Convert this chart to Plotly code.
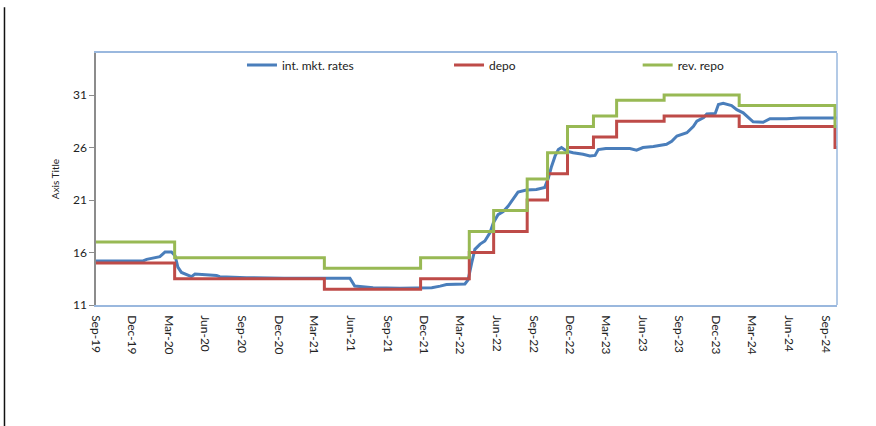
import plotly.graph_objects as go

# Policy corridor: dates on which the corridor rates changed (step series)
policy_dates = ["2019-09-01", "2020-03-16", "2021-03-26", "2021-11-22", "2022-03-24",
                "2022-05-24", "2022-08-16", "2022-10-06", "2022-11-25", "2023-01-29",
                "2023-03-28", "2023-07-25", "2024-01-29", "2024-09-25", "2024-09-30"]
depo = [15, 13.5, 12.5, 13.5, 16, 18, 21, 23.5, 26, 27, 28.5, 29, 28, 26, 26]
rev_repo = [17, 15.5, 14.5, 15.5, 18, 20, 23, 25.5, 28, 29, 30.5, 31, 30, 28, 28]

# Interbank market rate
mkt_dates = ["2019-09-01", "2019-12-28", "2020-01-06", "2020-01-22", "2020-02-08",
             "2020-02-21", "2020-03-08", "2020-03-17", "2020-03-24", "2020-04-02",
             "2020-04-19", "2020-04-27", "2020-05-06", "2020-05-26", "2020-06-29",
             "2020-07-07", "2020-08-10", "2020-09-12", "2020-12-15", "2021-03-20",
             "2021-05-29", "2021-06-10", "2021-07-26", "2021-10-01", "2021-11-25",
             "2021-12-20", "2022-01-10", "2022-01-26", "2022-03-13", "2022-03-21",
             "2022-03-30", "2022-04-07", "2022-04-20", "2022-05-02", "2022-05-15",
             "2022-05-23", "2022-06-04", "2022-06-17", "2022-06-29", "2022-07-12",
             "2022-07-24", "2022-08-14", "2022-09-08", "2022-09-29", "2022-10-08",
             "2022-10-16", "2022-10-25", "2022-11-02", "2022-11-10", "2022-11-23",
             "2022-12-09", "2023-01-03", "2023-01-20", "2023-02-02", "2023-02-10",
             "2023-03-01", "2023-04-30", "2023-05-17", "2023-06-02", "2023-06-28",
             "2023-07-31", "2023-08-13", "2023-08-26", "2023-09-20", "2023-10-06",
             "2023-10-15", "2023-11-01", "2023-11-09", "2023-11-30", "2023-12-08",
             "2023-12-20", "2024-01-10", "2024-01-23", "2024-02-08", "2024-02-20",
             "2024-03-04", "2024-03-29", "2024-04-15", "2024-05-27", "2024-06-29",
             "2024-09-30"]
mkt_rates = [15.2, 15.2, 15.35, 15.45, 15.6,
             16.05, 16.05, 15.7, 14.6, 14.1,
             13.8, 13.7, 13.95, 13.9, 13.8,
             13.7, 13.65, 13.6, 13.55, 13.55,
             13.55, 12.8, 12.65, 12.6, 12.6,
             12.65, 12.8, 12.95, 13.0, 13.4,
             15.0, 16.3, 16.8, 17.1, 17.9,
             18.8, 19.6, 19.9, 20.4, 21.1,
             21.75, 21.95, 22.0, 22.2, 23.1,
             24.2, 25.2, 25.8, 26.0, 25.65,
             25.5, 25.35, 25.2, 25.25, 25.8,
             25.9, 25.9, 25.75, 26.0, 26.1,
             26.3, 26.6, 27.1, 27.4, 28.0,
             28.5, 28.85, 29.2, 29.25, 30.1,
             30.2, 30.0, 29.6, 29.3, 28.85,
             28.45, 28.4, 28.75, 28.75, 28.8,
             28.8]

# Quarterly axis labels
tick_dates = ["2019-09-01", "2019-12-01", "2020-03-01", "2020-06-01", "2020-09-01",
              "2020-12-01", "2021-03-01", "2021-06-01", "2021-09-01", "2021-12-01",
              "2022-03-01", "2022-06-01", "2022-09-01", "2022-12-01", "2023-03-01",
              "2023-06-01", "2023-09-01", "2023-12-01", "2024-03-01", "2024-06-01",
              "2024-09-01"]
tick_labels = ["Sep-19", "Dec-19", "Mar-20", "Jun-20", "Sep-20", "Dec-20", "Mar-21",
               "Jun-21", "Sep-21", "Dec-21", "Mar-22", "Jun-22", "Sep-22", "Dec-22",
               "Mar-23", "Jun-23", "Sep-23", "Dec-23", "Mar-24", "Jun-24", "Sep-24"]

FONT = "Lato, Liberation Sans, sans-serif"
BLUE = "#4a7ebb"
RED = "#be4b48"
GREEN = "#98b954"
FRAME = "#9ab8de"

fig = go.Figure()
fig.add_trace(go.Scatter(x=mkt_dates, y=mkt_rates, mode="lines", name="int. mkt. rates",
                         line=dict(color=BLUE, width=3), legend="legend"))
fig.add_trace(go.Scatter(x=policy_dates, y=depo, mode="lines", name="depo",
                         line=dict(color=RED, width=3, shape="hv"), legend="legend2"))
fig.add_trace(go.Scatter(x=policy_dates, y=rev_repo, mode="lines", name="rev. repo",
                         line=dict(color=GREEN, width=3, shape="hv"), legend="legend3"))

legend_style = dict(orientation="h", y=0.952, yanchor="middle", xanchor="left",
                    bgcolor="rgba(0,0,0,0)", font=dict(family=FONT, size=12, color="#222"),
                    itemwidth=30)

fig.update_layout(
    width=876, height=426,
    margin=dict(l=96, r=39, t=53, b=121),
    paper_bgcolor="white", plot_bgcolor="white",
    font=dict(family=FONT, size=12, color="#222"),
    showlegend=True,
    legend=dict(x=0.197, **legend_style),
    legend2=dict(x=0.4764, **legend_style),
    legend3=dict(x=0.731, **legend_style),
    xaxis=dict(type="date", range=["2019-09-01", "2024-09-30"],
               tickmode="array", tickvals=tick_dates, ticktext=tick_labels,
               tickangle=90, ticks="outside", ticklen=6, tickcolor="rgba(0,0,0,0)",
               showgrid=False, zeroline=False,
               showline=True, linecolor=FRAME, linewidth=1.5, mirror=True,
               tickfont=dict(family=FONT, size=12, color="#222")),
    yaxis=dict(range=[11, 35], tick0=11, dtick=5, showgrid=False, zeroline=False,
               showline=True, linecolor="#8c8c8c", linewidth=1.5,
               ticks="outside", ticklen=5, tickcolor="#8c8c8c",
               tickfont=dict(family=FONT, size=12, color="#222"),
               title=dict(text="Axis Title", standoff=11,
                          font=dict(family=FONT, size=10, color="#222"))),
)

# right edge of the plot frame
fig.add_shape(type="line", xref="paper", yref="paper", x0=1, x1=1, y0=0, y1=1,
              line=dict(color=FRAME, width=1.5))
# page border line on the left
fig.add_shape(type="line", xref="paper", yref="paper", x0=-0.1235, x1=-0.1235,
              y0=1.182, y1=-0.48, line=dict(color="#111", width=1.5))

fig.write_html("out.html")
